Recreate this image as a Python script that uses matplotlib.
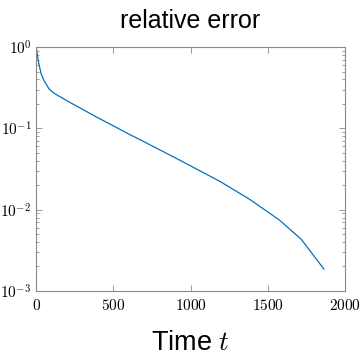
import numpy as np
import matplotlib
matplotlib.use('Agg')
import matplotlib.pyplot as plt
from matplotlib.ticker import FuncFormatter, LogLocator, NullFormatter

plt.rcParams['mathtext.fontset'] = 'cm'

# values
time = [0, 5, 16, 31, 49, 81, 113, 157, 221, 282, 390, 497, 605, 670, 929,
        1188, 1383, 1578, 1718, 1864]
rel_err = [1.0, 0.83, 0.625, 0.47, 0.39, 0.308, 0.272, 0.243, 0.207, 0.179,
           0.138, 0.108, 0.084, 0.073, 0.0407, 0.0224, 0.0134, 0.0074,
           0.0043, 0.00186]
xticks = [0, 500, 1000, 1500, 2000]
yticks = [1e-3, 1e-2, 1e-1, 1e0]

fig = plt.figure(figsize=(3.6, 3.57), dpi=100, facecolor='white')
ax = fig.add_axes([0.101, 0.185, 0.857, 0.683])

ax.semilogy(time, rel_err, color='#0072BD', linewidth=0.9)

ax.set_xlim(0, 2000)
ax.set_ylim(1e-3, 1e0)
ax.set_xticks(xticks)
ax.set_yticks(yticks)
ax.xaxis.set_major_formatter(FuncFormatter(lambda v, p: f'${v:.0f}$'))
ax.yaxis.set_major_formatter(FuncFormatter(lambda v, p: f'$10^{{{int(np.round(np.log10(v)))}}}$'))
ax.yaxis.set_minor_locator(LogLocator(base=10, subs=np.arange(2, 10)))
ax.yaxis.set_minor_formatter(NullFormatter())

gray = '#8a8a8a'
for s in ax.spines.values():
    s.set_color(gray)
    s.set_linewidth(0.8)
ax.tick_params(which='both', direction='in', top=True, right=True,
               color=gray, labelsize=11, width=0.6)
ax.tick_params(which='major', length=4)
ax.tick_params(which='minor', length=2)
ax.tick_params(axis='x', pad=5)

ax.set_title('relative error', fontsize=18, family='Liberation Sans', pad=14)
ax.set_xlabel('Time $t$', fontsize=19.5, family='Liberation Sans', labelpad=12)

fig.savefig('out.png', dpi=100, facecolor='white')
